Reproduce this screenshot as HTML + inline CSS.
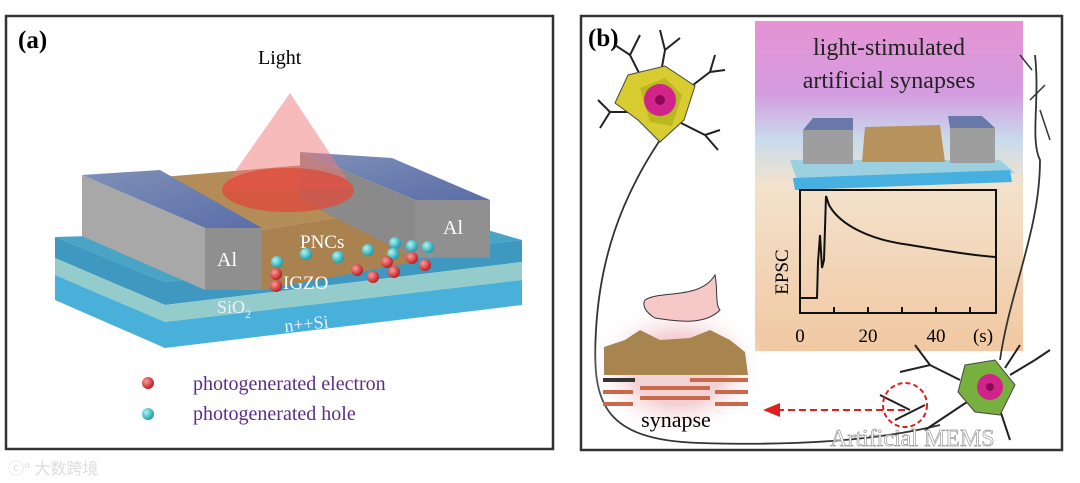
<!DOCTYPE html>
<html><head><meta charset="utf-8"><style>
html,body{margin:0;padding:0;background:#fff;width:1080px;height:483px;overflow:hidden}
svg{display:block}
text{font-family:"Liberation Serif",serif}
</style></head><body>
<svg width="1080" height="483" viewBox="0 0 1080 483" xmlns="http://www.w3.org/2000/svg">
<defs>
<linearGradient id="ins" x1="0" y1="0" x2="0" y2="1">
<stop offset="0" stop-color="#e593d3"/><stop offset="0.22" stop-color="#d49ce0"/>
<stop offset="0.36" stop-color="#c8dcec"/><stop offset="0.5" stop-color="#f3e2cc"/>
<stop offset="1" stop-color="#f1c8a2"/></linearGradient>
<radialGradient id="glow" cx="0.5" cy="0.5" r="0.5"><stop offset="0.5" stop-color="#f3d2d6"/><stop offset="1" stop-color="#fff" stop-opacity="0"/></radialGradient>
<radialGradient id="rb" cx="0.35" cy="0.35" r="0.7"><stop offset="0" stop-color="#ff9a9a"/><stop offset="1" stop-color="#b81818"/></radialGradient>
<radialGradient id="cb" cx="0.35" cy="0.35" r="0.7"><stop offset="0" stop-color="#aef5f5"/><stop offset="1" stop-color="#129aa8"/></radialGradient>
<linearGradient id="alTop" x1="0" y1="0" x2="1" y2="1"><stop offset="0" stop-color="#8090b8"/><stop offset="1" stop-color="#5a6ea8"/></linearGradient>
</defs>

<!-- Panel a -->
<rect x="6" y="16" width="547" height="433" fill="#fff" stroke="#333" stroke-width="2.5"/>
<text x="18" y="48" font-size="25" font-weight="bold">(a)</text>
<text x="258" y="64" font-size="20">Light</text>

<polygon points="55,237 470,225 522,240 165,282" fill="#4aa4c6"/>
<polygon points="55,237 165,282 522,240 522,262 165,305 55,258" fill="#3f98c0"/>
<polygon points="55,258 165,305 522,262 522,280 165,322 55,275" fill="#94cccc"/>
<polygon points="55,275 165,322 522,280 522,305 165,348 55,300" fill="#49b0da"/>

<polygon points="150,178 305,165 415,205 262,230" fill="#b48c58"/>
<polygon points="262,230 415,205 415,262 262,290" fill="#a98250"/>

<polygon points="82,175 160,170 262,228 205,228" fill="url(#alTop)"/>
<polygon points="82,175 205,228 205,290 82,236" fill="#a8a8a8"/>
<rect x="205" y="228" width="57" height="62" fill="#8f8f8f"/>
<text x="217" y="266" font-size="20" fill="#fff">Al</text>
<polygon points="300,152 392,158 490,200 415,200" fill="url(#alTop)"/>
<polygon points="300,152 415,200 415,258 300,200" fill="#8a8a8a"/>
<rect x="415" y="200" width="75" height="58" fill="#909090"/>
<text x="443" y="234" font-size="20" fill="#fff">Al</text>

<polygon points="290,93 222,190 354,190" fill="#f07878" opacity="0.5"/>
<ellipse cx="288" cy="190" rx="66" ry="22" fill="#e04838" opacity="0.75"/>

<text x="300" y="248" font-size="19" fill="#fff">PNCs</text>
<text x="283" y="289" font-size="19" fill="#fff">IGZO</text>
<text x="217" y="313" font-size="18" fill="#eef">SiO<tspan font-size="12" dy="5">2</tspan></text>
<text x="285" y="332" font-size="18" fill="#eef" transform="rotate(-6 285 332)">n++Si</text>

<g fill="url(#cb)">
<circle cx="277" cy="262" r="6"/><circle cx="306" cy="254" r="6"/><circle cx="338" cy="257" r="6"/>
<circle cx="368" cy="250" r="6"/><circle cx="395" cy="243" r="6"/><circle cx="412" cy="246" r="6"/><circle cx="428" cy="247" r="6"/><circle cx="393" cy="254" r="6"/>
</g>
<g fill="url(#rb)">
<circle cx="276" cy="274" r="6"/><circle cx="276" cy="286" r="6"/><circle cx="357" cy="270" r="6"/>
<circle cx="373" cy="277" r="6"/><circle cx="387" cy="262" r="6"/><circle cx="394" cy="272" r="6"/>
<circle cx="412" cy="258" r="6"/><circle cx="425" cy="265" r="6"/>
</g>

<circle cx="148" cy="383" r="6" fill="url(#rb)"/>
<circle cx="148" cy="414" r="6" fill="url(#cb)"/>
<text x="193" y="390" font-size="20" fill="#5a2e86">photogenerated electron</text>
<text x="193" y="420" font-size="20" fill="#5a2e86">photogenerated hole</text>
<text x="8" y="474" font-size="16" fill="#ddd" font-family="Liberation Sans,Noto Sans CJK SC,sans-serif">ⓒ° 大数跨境</text>

<!-- Panel b -->
<rect x="581" y="16" width="481" height="434" fill="#fff" stroke="#333" stroke-width="2.5"/>
<text x="588" y="46" font-size="25" font-weight="bold">(b)</text>

<rect x="755" y="21" width="268" height="330" fill="url(#ins)"/>
<text x="889" y="55" font-size="24" text-anchor="middle" fill="#222">light-stimulated</text>
<text x="889" y="88" font-size="24" text-anchor="middle" fill="#222">artificial synapses</text>
<polygon points="790,160 1000,160 1015,173 800,188" fill="#9cd0e0"/>
<polygon points="793,178 1010,170 1012,182 795,190" fill="#48b0e0"/>
<polygon points="865,127 940,125 945,162 862,162" fill="#b8925c"/>
<rect x="803" y="130" width="50" height="34" fill="#9e9e9e"/><polygon points="803,130 813,118 853,118 853,130" fill="#6878a8"/>
<rect x="950" y="128" width="45" height="35" fill="#9e9e9e"/><polygon points="950,128 948,116 982,116 995,128" fill="#6878a8"/>
<rect x="800" y="190" width="196" height="123" fill="none" stroke="#111" stroke-width="2"/>
<g stroke="#111" stroke-width="2"><line x1="834" y1="313" x2="834" y2="307"/><line x1="868" y1="313" x2="868" y2="307"/><line x1="902" y1="313" x2="902" y2="307"/><line x1="936" y1="313" x2="936" y2="307"/><line x1="970" y1="313" x2="970" y2="307"/></g>
<path d="M800,298 L817,298 L818,262 L820,235 L822,268 L824,260 L826,196 L829,205 C840,225 870,240 910,245 C940,250 970,255 995,257" fill="none" stroke="#111" stroke-width="2"/>
<text x="788" y="272" font-size="19" transform="rotate(-90 788 272)" text-anchor="middle">EPSC</text>
<text x="800" y="342" font-size="19" text-anchor="middle">0</text>
<text x="868" y="342" font-size="19" text-anchor="middle">20</text>
<text x="936" y="342" font-size="19" text-anchor="middle">40</text>
<text x="983" y="342" font-size="19" text-anchor="middle">(s)</text>

<path d="M660,140 C620,200 600,260 596,330 C592,400 600,440 700,443 C800,446 880,440 940,425" fill="none" stroke="#333" stroke-width="1.8"/>
<path d="M1035,55 C1040,100 1030,140 1040,160 C1040,230 1010,290 1000,360" fill="none" stroke="#333" stroke-width="1.8"/>
<path d="M1020,55 L1032,70 M1045,85 L1030,100 M1040,110 L1050,140" stroke="#333" stroke-width="1.5" fill="none"/>

<g stroke="#222" stroke-width="2" fill="none">
<path d="M645,85 L630,55 L615,45 M630,55 L640,35 M660,78 L665,50 L660,30 M665,50 L680,38 M680,95 L710,72 L725,70 M710,72 L715,55 M675,120 L705,135 L720,130 M705,135 L718,150 M640,112 L610,112 L598,100 M610,112 L600,128"/>
</g>
<polygon points="628,75 665,66 695,86 684,120 660,142 638,120 615,103" fill="#d8cc30" stroke="#444"/>
<polygon points="640,88 665,78 682,95 672,126 650,122" fill="#b9b820"/>
<circle cx="660" cy="100" r="16" fill="#d0248a"/><circle cx="660" cy="100" r="5" fill="#8a0a56"/>

<g stroke="#222" stroke-width="2" fill="none">
<path d="M960,380 L930,365 L900,372 M930,365 L915,345 M970,400 L940,420 L925,430 M1010,375 L1035,360 L1050,350 M1000,410 L1010,440 M1005,368 L1020,345 M880,395 L910,410 M895,420 L925,405"/>
</g>
<polygon points="965,365 995,360 1015,385 1000,415 975,412 958,392" fill="#78b040" stroke="#444"/>
<circle cx="990" cy="387" r="13" fill="#d0248a"/><circle cx="990" cy="387" r="4" fill="#8a0a56"/>

<ellipse cx="678" cy="370" rx="90" ry="70" fill="url(#glow)"/>
<path d="M645,300 C660,290 700,300 715,275 C718,290 715,305 720,310 C705,325 680,322 655,318 C645,312 642,305 645,300 Z" fill="#f7c8c8" stroke="#333"/>
<path d="M604,347 L625,340 L640,330 L660,340 L690,338 L710,330 L730,340 L745,352 L748,375 L604,375 Z" fill="#a8844e"/>
<g fill="#c86a4a"><rect x="603" y="378" width="32" height="4" fill="#333"/><rect x="690" y="378" width="58" height="4"/><rect x="640" y="386" width="70" height="4"/><rect x="603" y="390" width="30" height="4"/><rect x="715" y="390" width="33" height="4"/><rect x="640" y="396" width="70" height="4"/><rect x="603" y="402" width="30" height="4"/><rect x="715" y="402" width="33" height="4"/></g>
<text x="676" y="427" font-size="22" text-anchor="middle">synapse</text>

<line x1="905" y1="410" x2="778" y2="410" stroke="#e02020" stroke-width="2" stroke-dasharray="7,4"/>
<polygon points="763,410 780,403 780,417" fill="#e02020"/>
<circle cx="905" cy="405" r="22" fill="none" stroke="#e02020" stroke-width="2" stroke-dasharray="5,3"/>
<text x="830" y="446" font-size="24" fill="#fff" stroke="#999" stroke-width="0.7" font-family="Liberation Sans,sans-serif">Artificial MEMS</text>
</svg>
</body></html>
